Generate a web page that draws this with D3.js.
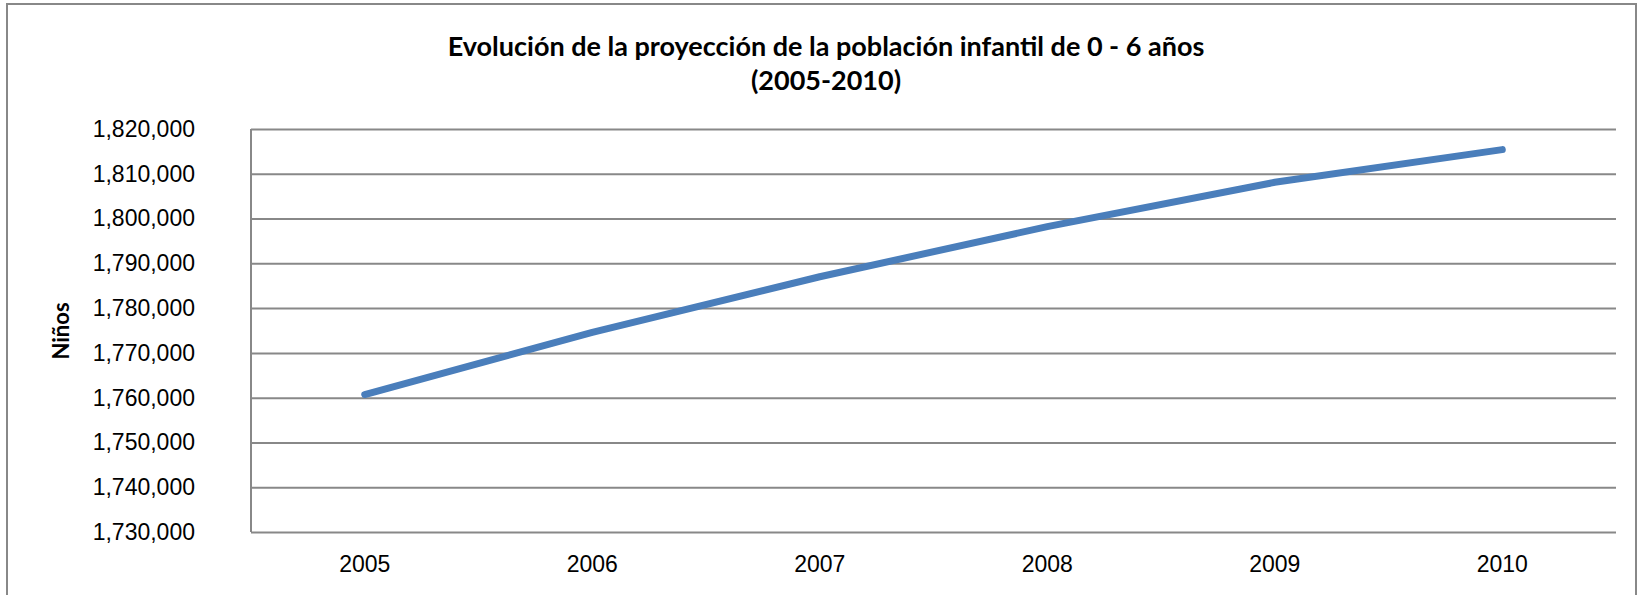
<!DOCTYPE html>
<html>
<head>
<meta charset="utf-8">
<script src="https://cdn.jsdelivr.net/npm/d3@7"></script>
<style>
  body { margin: 0; background: #fff; }
  svg { display: block; font-family: Lato, "Open Sans", sans-serif; }
  .grid line { stroke: #888; stroke-width: 2px; }
  .axis path, .axis line { stroke: none; }
  .axis text { fill: #000; font-size: 23px; }
</style>
</head>
<body>
<svg id="chart"></svg>
<script>
// datos
var years = ["2005", "2006", "2007", "2008", "2009", "2010"];
var ninos = [1760700, 1774600, 1787000, 1798200, 1808100, 1815400];
var yTicks = [1730000, 1740000, 1750000, 1760000, 1770000, 1780000, 1790000, 1800000, 1810000, 1820000];
var titleLines = ["Evolución de la proyección de la población infantil de 0 - 6 años", "(2005-2010)"];
var yTitle = "Niños";

var W = 1644, H = 595;
var margin = {top: 129, right: 28, bottom: 63, left: 251},
    width = W - margin.left - margin.right,
    height = H - margin.top - margin.bottom;

var svg = d3.select("#chart")
    .attr("width", W)
    .attr("height", H);

// marco exterior
svg.append("rect")
    .attr("x", 7)
    .attr("y", 4)
    .attr("width", 1629)
    .attr("height", 620)
    .attr("fill", "none")
    .attr("stroke", "#888")
    .attr("stroke-width", 2);

var g = svg.append("g")
    .attr("transform", "translate(" + margin.left + "," + margin.top + ")");

var x = d3.scaleBand()
    .domain(years)
    .range([0, width]);

var y = d3.scaleLinear()
    .domain([1730000, 1820000])
    .range([height, 0]);

// líneas de cuadrícula
g.append("g")
    .attr("class", "grid")
    .call(d3.axisLeft(y).tickValues(yTicks).tickSize(-width).tickFormat(""))
    .call(function(s) { s.select(".domain").remove(); });

// eje vertical
g.append("line")
    .attr("x1", 0).attr("x2", 0)
    .attr("y1", 0).attr("y2", height)
    .attr("stroke", "#888")
    .attr("stroke-width", 2);

g.append("g")
    .attr("class", "axis y")
    .call(d3.axisLeft(y).tickValues(yTicks).tickSize(0).tickPadding(56).tickFormat(d3.format(",")));

g.append("g")
    .attr("class", "axis x")
    .attr("transform", "translate(0," + height + ")")
    .call(d3.axisBottom(x).tickSize(0).tickPadding(24));

var line = d3.line()
    .x(function(d, i) { return x(years[i]) + x.bandwidth() / 2; })
    .y(function(d) { return y(d); });

g.append("path")
    .datum(ninos)
    .attr("d", line)
    .attr("fill", "none")
    .attr("stroke", "#4a7ebb")
    .attr("stroke-width", 7)
    .attr("stroke-linecap", "round")
    .attr("stroke-linejoin", "round");

// títulos
svg.append("g")
    .selectAll("text")
    .data(titleLines)
    .enter()
    .append("text")
    .attr("x", 826)
    .attr("y", function(d, i) { return 56 + i * 34; })
    .attr("text-anchor", "middle")
    .style("font-weight", "bold")
    .style("font-size", "27px")
    .text(function(d) { return d; });

svg.append("text")
    .attr("transform", "translate(69,331) rotate(-90)")
    .attr("text-anchor", "middle")
    .style("font-weight", "bold")
    .style("font-size", "22px")
    .text(yTitle);
</script>
</body>
</html>
